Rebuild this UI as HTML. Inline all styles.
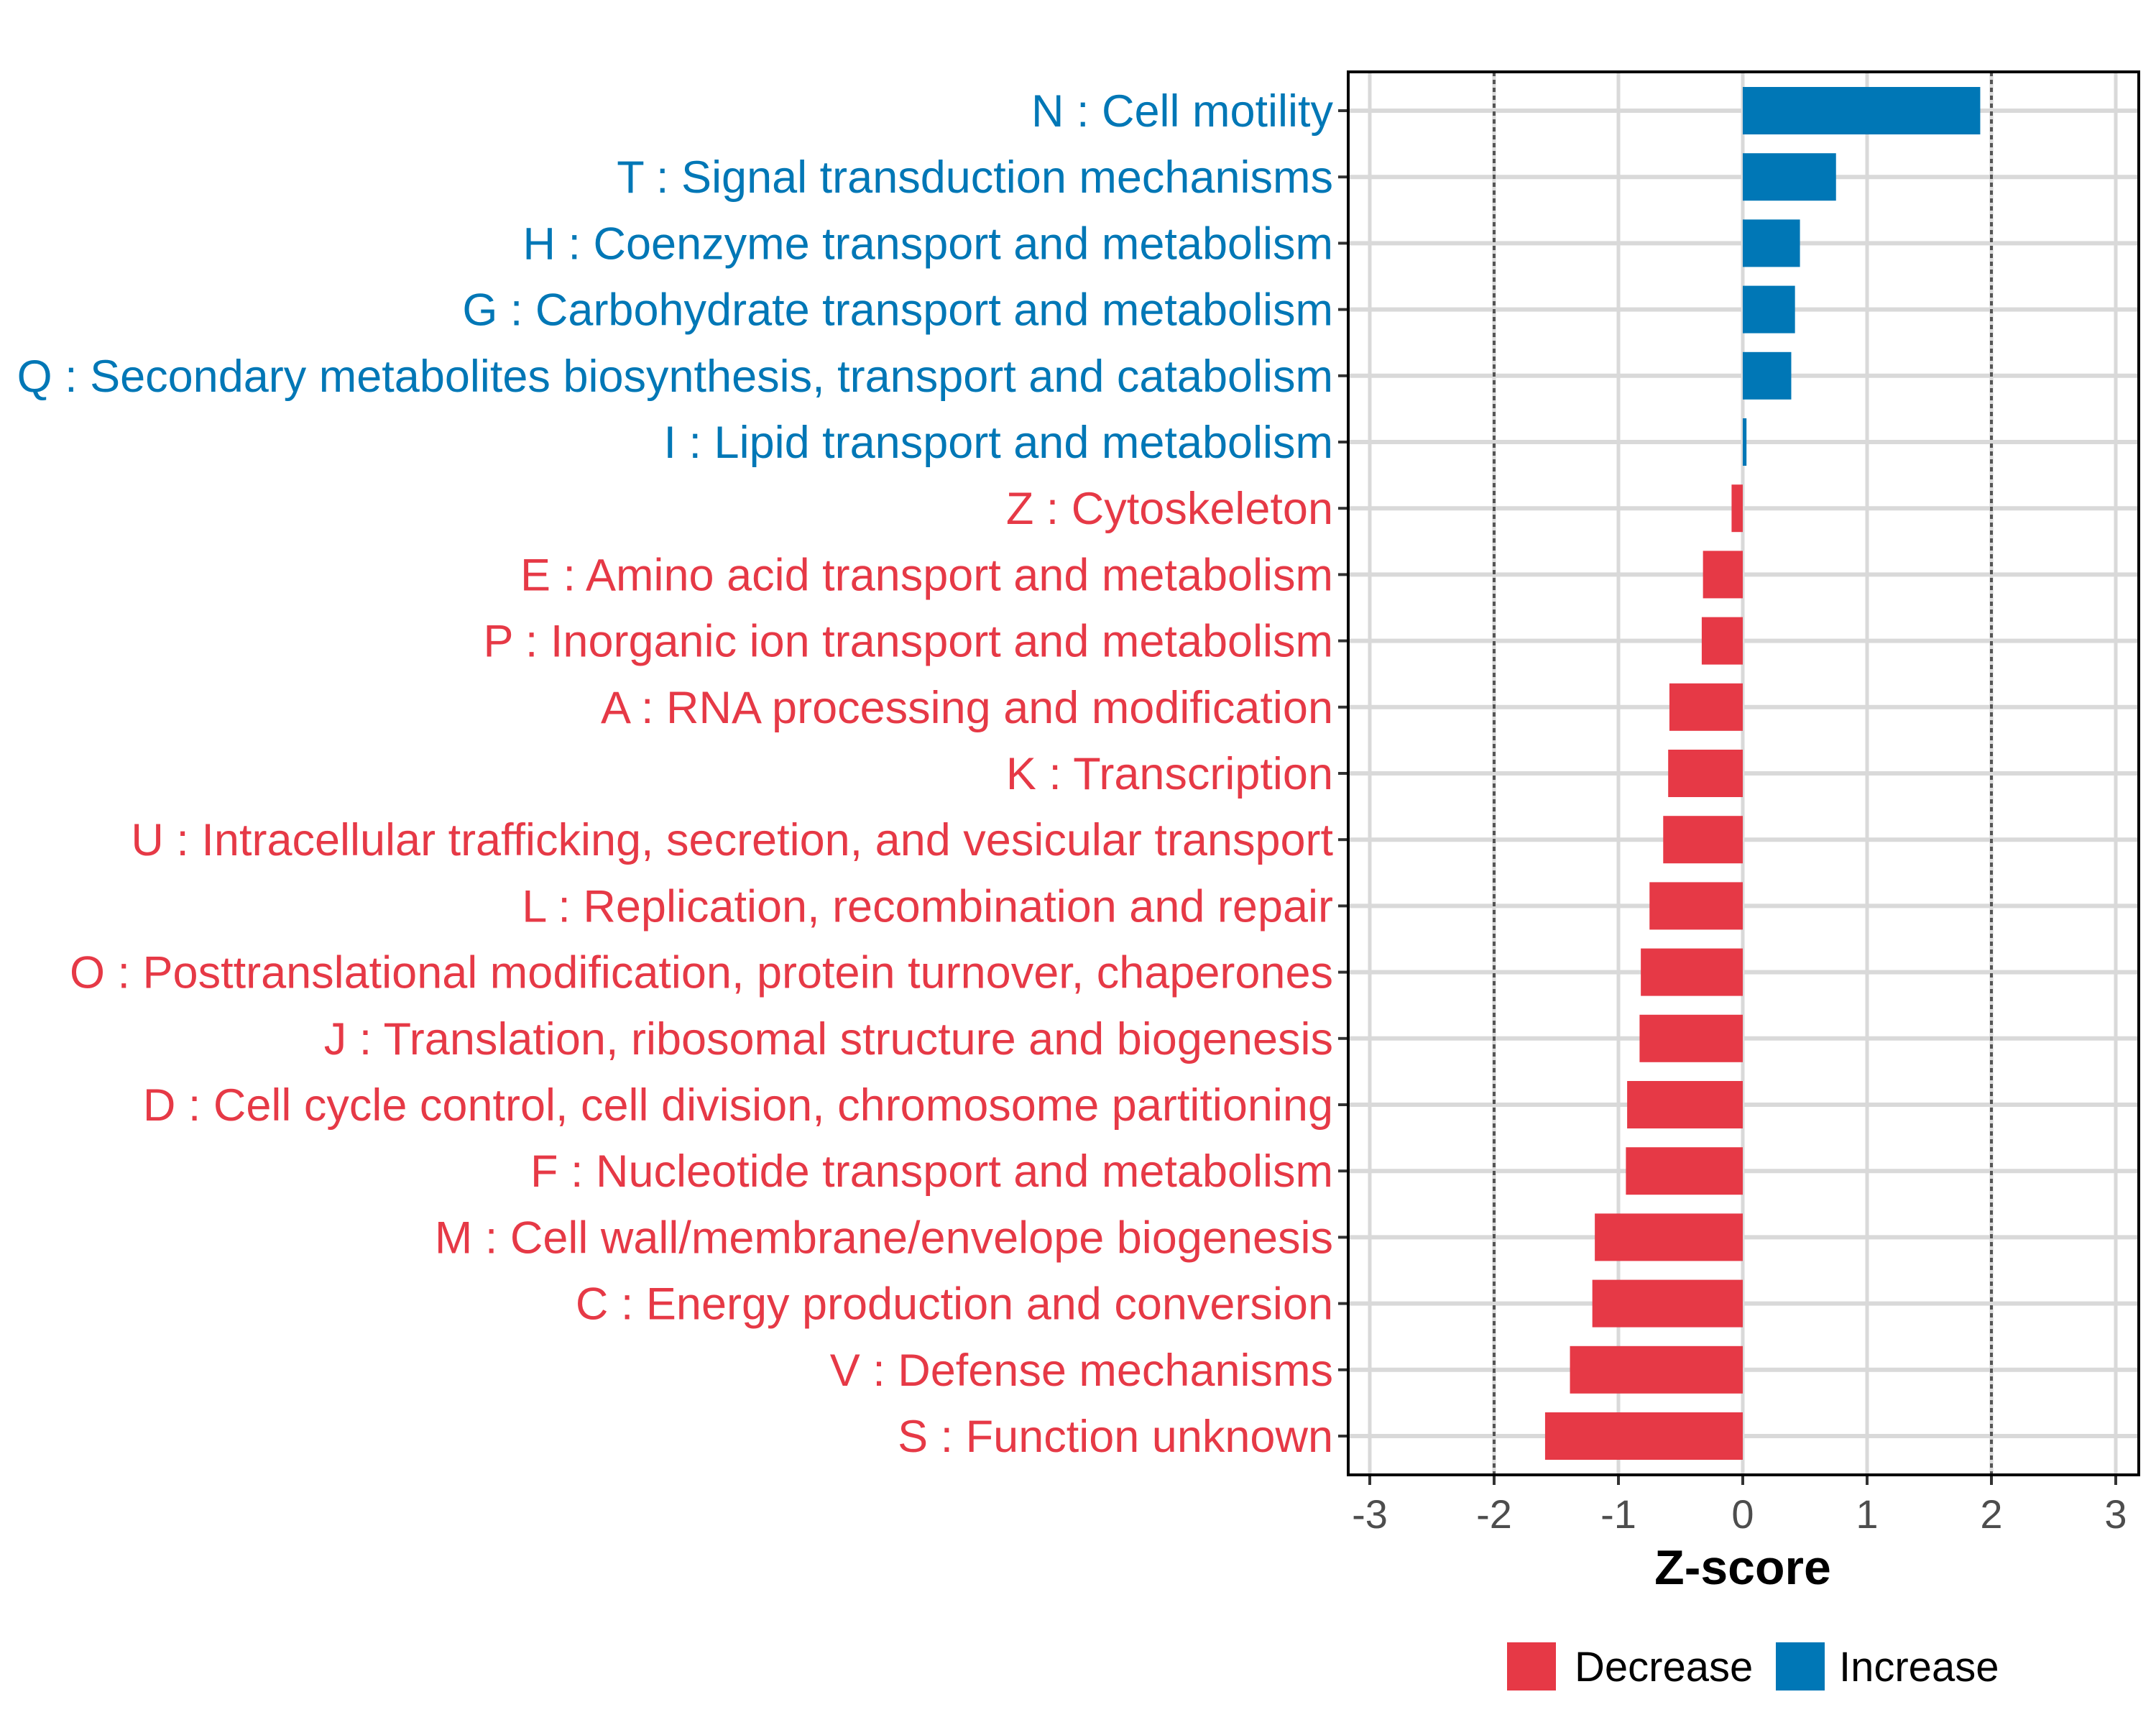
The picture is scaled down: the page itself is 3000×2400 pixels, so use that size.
<!DOCTYPE html>
<html><head><meta charset="utf-8"><style>
html,body{margin:0;padding:0;background:#fff;}
svg{display:block;font-family:"Liberation Sans",Arial,sans-serif;}
</style></head><body>
<svg id="chart" width="3000" height="2400" viewBox="0 0 3000 2400" xmlns="http://www.w3.org/2000/svg">
<g id="grid"></g>
<g id="bars"></g>
<g id="ylabels"></g>
<g id="xaxis"></g>
<rect x="1876" y="100" width="1100" height="1952" fill="none" stroke="#000" stroke-width="4"/>
<text x="2425" y="2204" text-anchor="middle" font-size="68" font-weight="bold" fill="#000">Z-score</text>
<g>
<rect x="2097" y="2285" width="68" height="67" fill="#e63946"/>
<text x="2191" y="2339" font-size="58" fill="#000">Decrease</text>
<rect x="2471" y="2285" width="68" height="67" fill="#0077b6"/>
<text x="2559" y="2339" font-size="58" fill="#000">Increase</text>
</g>
</svg>
<script>
const categories = ["N : Cell motility","T : Signal transduction mechanisms","H : Coenzyme transport and metabolism","G : Carbohydrate transport and metabolism","Q : Secondary metabolites biosynthesis, transport and catabolism","I : Lipid transport and metabolism","Z : Cytoskeleton","E : Amino acid transport and metabolism","P : Inorganic ion transport and metabolism","A : RNA processing and modification","K : Transcription","U : Intracellular trafficking, secretion, and vesicular transport","L : Replication, recombination and repair","O : Posttranslational modification, protein turnover, chaperones","J : Translation, ribosomal structure and biogenesis","D : Cell cycle control, cell division, chromosome partitioning","F : Nucleotide transport and metabolism","M : Cell wall/membrane/envelope biogenesis","C : Energy production and conversion","V : Defense mechanisms","S : Function unknown"];
const zscores = [1.91,0.75,0.46,0.42,0.39,0.03,-0.09,-0.32,-0.33,-0.59,-0.60,-0.64,-0.75,-0.82,-0.83,-0.93,-0.94,-1.19,-1.21,-1.39,-1.59];
const xTicks = [-3,-2,-1,0,1,2,3];
const xTickLabels = ["-3","-2","-1","0","1","2","3"];
const thresholds = [-2,2];

const NS="http://www.w3.org/2000/svg";
const x = v => 2425 + v*173;
const y = i => 154 + i*92.2;
const BH = 66;
function mk(tag, attrs, parent){const e=document.createElementNS(NS,tag);for(const k in attrs)e.setAttribute(k,attrs[k]);parent.appendChild(e);return e;}
const grid=document.getElementById('grid'),bars=document.getElementById('bars'),yl=document.getElementById('ylabels'),xa=document.getElementById('xaxis');
xTicks.forEach((t,i)=>{
  const g=mk('line',{x1:x(t),x2:x(t),y1:100,y2:2052,stroke:'#d9d9d9','stroke-width':5},grid);
  
  
  const tk=mk('line',{x1:x(t),x2:x(t),y1:2052,y2:2066,stroke:'#333','stroke-width':4},xa);
  
  
  const tl=mk('text',{x:x(t),y:2126,'text-anchor':'middle','font-size':56,fill:'#4d4d4d'},xa);
  tl.textContent=xTickLabels[i];
  
  
});
categories.forEach((c,i)=>{
  const g=mk('line',{x1:1876,x2:2976,y1:y(i),y2:y(i),stroke:'#d9d9d9','stroke-width':6},grid);
  
  
});
thresholds.forEach(t=>{
  const d=mk('line',{x1:x(t),x2:x(t),y1:100,y2:2052,stroke:'#555','stroke-width':4,'stroke-dasharray':'6 5'},grid);
  
  
});
categories.forEach((c,i)=>{
  const v=zscores[i], col=v>=0?'#0077b6':'#e63946';
  const r=mk('rect',{x:Math.min(x(0),x(v)),y:y(i)-BH/2,width:Math.abs(x(v)-x(0)),height:BH,fill:col},bars);
  
  
  const tk=mk('line',{x1:1862,x2:1876,y1:y(i),y2:y(i),stroke:'#333','stroke-width':4},yl);
  
  
  const t=mk('text',{x:1855,y:y(i)+22,'text-anchor':'end','font-size':63,fill:col},yl);
  t.textContent=c;
  
  
});
</script>
</body></html>
